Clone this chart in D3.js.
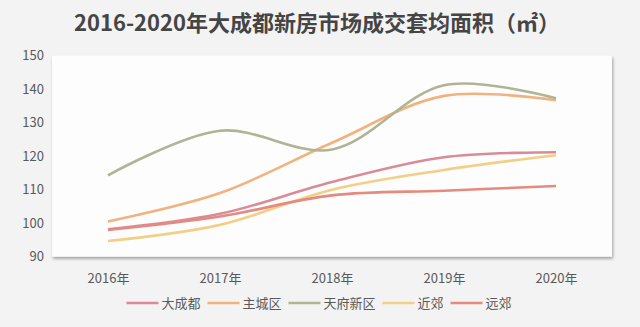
<!DOCTYPE html>
<html>
<head>
<meta charset="utf-8">
<script src="https://cdn.jsdelivr.net/npm/d3@7"></script>
<style>
  html, body { margin: 0; padding: 0; background: #f3f3f3; }
  svg { display: block; font-family: "Noto Sans CJK SC", "Noto Sans", sans-serif; }
</style>
</head>
<body>
<svg id="chart" width="640" height="327"></svg>
<script>
// data
var years = ["2016年", "2017年", "2018年", "2019年", "2020年"];
var seriesNames = ["大成都", "主城区", "天府新区", "近郊", "远郊"];
var daChengdu = [98.2, 102.8, 112.3, 119.7, 121.2];
var zhuCheng = [100.5, 109.0, 124, 138, 136.7];
var tianfu = [114.3, 127.6, 122, 141.2, 137.3];
var jinJiao = [94.7, 99.5, 110, 115.9, 120.3];
var yuanJiao = [98, 102, 108.3, 109.7, 111.1];
var yTicks = [90, 100, 110, 120, 130, 140, 150];
var colors = ["#d98c98", "#f2b27e", "#b0b494", "#f3cf86", "#e58a7e"];

var series = [daChengdu, zhuCheng, tianfu, jinJiao, yuanJiao];

var svg = d3.select("#chart");
var plot = { left: 52, right: 612, top: 55.7, bottom: 256.7 };

// background
svg.append("rect")
    .attr("width", 640)
    .attr("height", 327)
    .attr("fill", "#f3f3f3");

// title
svg.append("text")
    .attr("x", 317)
    .attr("y", 31)
    .attr("text-anchor", "middle")
    .attr("font-size", 22)
    .attr("font-weight", "bold")
    .attr("fill", "#454545")
    .text("2016-2020年大成都新房市场成交套均面积（㎡）");

// shadow for the plot area
var defs = svg.append("defs");
var filter = defs.append("filter")
    .attr("id", "shadow")
    .attr("x", "-5%").attr("y", "-5%")
    .attr("width", "110%").attr("height", "115%");
filter.append("feDropShadow")
    .attr("dx", 1)
    .attr("dy", 2)
    .attr("stdDeviation", 1.5)
    .attr("flood-color", "#000")
    .attr("flood-opacity", 0.35);

svg.append("rect")
    .attr("x", plot.left)
    .attr("y", plot.top)
    .attr("width", plot.right - plot.left)
    .attr("height", plot.bottom - plot.top)
    .attr("fill", "#fdfdfd")
    .attr("filter", "url(#shadow)");

// scales
var x = d3.scalePoint()
    .domain(years)
    .range([plot.left, plot.right])
    .padding(0.5);

var y = d3.scaleLinear()
    .domain([90, 150])
    .range([plot.bottom, plot.top]);

// y axis labels
var yAxis = d3.axisLeft(y)
    .tickValues(yTicks)
    .tickSize(0)
    .tickPadding(8);

svg.append("g")
    .attr("transform", "translate(" + plot.left + ",0)")
    .call(yAxis)
    .call(function(g) { g.select(".domain").remove(); })
    .selectAll("text")
    .attr("font-size", 13)
    .attr("fill", "#595959")
    .attr("font-family", "\"Noto Sans CJK SC\", sans-serif");

// x axis labels
var xAxis = d3.axisBottom(x)
    .tickSize(0)
    .tickPadding(17);

svg.append("g")
    .attr("transform", "translate(0," + plot.bottom + ")")
    .call(xAxis)
    .call(function(g) { g.select(".domain").remove(); })
    .selectAll("text")
    .attr("font-size", 13)
    .attr("fill", "#595959")
    .attr("font-family", "\"Noto Sans CJK SC\", sans-serif");

// lines
var line = d3.line()
    .x(function(d, i) { return x(years[i]); })
    .y(function(d) { return y(d); })
    .curve(d3.curveCatmullRom.alpha(0.5));

svg.append("g")
    .selectAll("path")
    .data(series)
    .join("path")
    .attr("d", line)
    .attr("fill", "none")
    .attr("stroke", function(d, i) { return colors[i]; })
    .attr("stroke-width", 2.6)
    .attr("stroke-linecap", "butt");

// legend
var legend = svg.append("g").attr("class", "legend");
var lineLen = 32, textGap = 3, itemGap = 7, legendY = 303;

var items = legend.selectAll("g")
    .data(seriesNames)
    .join("g");

items.append("line")
    .attr("x1", 0)
    .attr("x2", lineLen)
    .attr("y1", 0)
    .attr("y2", 0)
    .attr("stroke", function(d, i) { return colors[i]; })
    .attr("stroke-width", 2.6);

items.append("text")
    .attr("x", lineLen + textGap)
    .attr("y", 0)
    .attr("dy", "0.35em")
    .attr("font-size", 13)
    .attr("fill", "#595959")
    .text(function(d) { return d; });

var offset = 0, widths = [];
items.each(function() {
    widths.push(lineLen + textGap + this.querySelector("text").getComputedTextLength());
});
var total = d3.sum(widths) + itemGap * (widths.length - 1);
var startX = 319 - total / 2;
items.attr("transform", function(d, i) {
    var tx = startX + offset;
    offset += widths[i] + itemGap;
    return "translate(" + tx + "," + legendY + ")";
});
</script>
</body>
</html>
